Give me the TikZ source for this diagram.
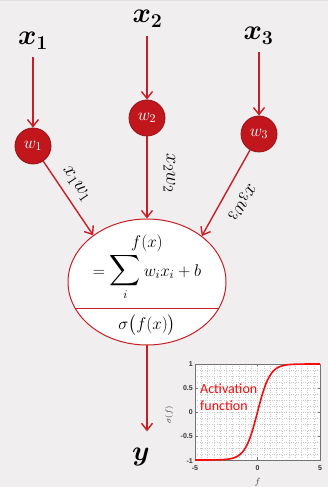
\RequirePackage{fix-cm}
\documentclass[tikz,border=0pt]{standalone}
\usepackage{amsmath}
\usepackage{fontspec}
\newfontfamily\carlito{Carlito}
\newfontfamily\lsans{Liberation Sans}
\usetikzlibrary{arrows.meta,shapes.geometric}
\definecolor{bg}{RGB}{240,238,239}
\definecolor{arr}{RGB}{200,30,36}
\definecolor{wfill}{RGB}{192,22,28}
\definecolor{wdraw}{RGB}{150,16,22}
\definecolor{curvered}{RGB}{245,12,12}
\definecolor{gridgray}{RGB}{200,200,200}
\tikzset{
  arrowline/.style={draw=arr, line width=1.4pt, -{Straight Barb[length=7pt,width=11pt]}},
  biglab/.style={inner sep=0pt, anchor=base, font=\fontsize{28}{30}\selectfont\boldmath},
  wnode/.style={circle, minimum size=36pt, inner sep=0pt, fill=wfill, draw=wdraw, line width=0.8pt, text=white, font=\fontsize{17}{18}\selectfont},
  edgelab/.style={sloped, allow upside down, anchor=south, font=\fontsize{20}{22}\selectfont},
  etext/.style={inner sep=0pt, font=\fontsize{17}{19}\selectfont},
  gridline/.style={draw=gridgray, line width=0.4pt, dotted},
  ticklab/.style={inner sep=0pt, font=\lsans\bfseries\fontsize{7}{8}\selectfont, text=black!80},
  actlab/.style={inner sep=0pt, anchor=base west, text=curvered, font=\carlito\fontsize{14}{16}\selectfont}
}
\begin{document}
\begin{tikzpicture}[x=1pt,y=1pt]
\fill[bg] (0,0) rectangle (328,487);
\useasboundingbox (0,0) rectangle (328,487);
\fill[gray!25] (0,485.5) rectangle (328,487);

% inputs
\node[biglab] (x1) at (33,442) {$x_1$};
\node[biglab] (x2) at (147.5,464) {$x_2$};
\node[biglab] (x3) at (258.5,447) {$x_3$};

% weights
\node[wnode] (w1) at (33,341) {$w_1$};
\node[wnode] (w2) at (147,369) {$w_2$};
\node[wnode] (w3) at (259,353) {$w_3$};

\draw[arrowline, shorten <=8pt] (w1 |- x1.south) -- (w1.north);
\draw[arrowline, shorten <=9pt] (w2 |- x2.south) -- (w2.north);
\draw[arrowline, shorten <=8pt] (w3 |- x3.south) -- (w3.north);

% neuron
\node[ellipse, draw=arr, line width=1pt, fill=white, minimum width=158pt, minimum height=126pt, inner sep=0pt,
  path picture={\draw[arr, line width=1pt] ([yshift=-27pt]path picture bounding box.west) -- ([yshift=-27pt]path picture bounding box.east);}]
  (ell) at (147,205) {};
\node[etext] (fx) at (147,244) {$f(x)$};
\node[etext] (sum) at (147,210) {$= \mathop{\scalebox{1.25}{$\displaystyle\sum$}}\limits_{i} w_i x_i + b$};
\node[etext] (sig) at (147,162) {$\sigma\bigl(f(x)\bigr)$};

\draw[arrowline] (w1) -- (ell.139.5) node[edgelab, pos=0.42, inner sep=8pt] (l1) {$x_1w_1$};
\draw[arrowline] (w2) -- (ell.north) node[edgelab, pos=0.45, inner sep=16pt] (l2) {$x_2w_2$};
\draw[arrowline] (w3) -- (ell.40.6) node[edgelab, pos=0.5, inner sep=12pt] (l3) {$x_3w_3$};

% output
\node[biglab] (y) at (141,27) {$y$};
\draw[arrowline, shorten >=16pt] (ell.south) -- (ell.south |- y.north);

% activation plot
\fill[white] (195,27) rectangle (320,123);
\foreach \i in {-4.5,-4,...,4.6} \draw[gridline] ({257.5+12.5*\i},27) -- ({257.5+12.5*\i},123);
\foreach \j in {-0.875,-0.75,...,0.9} \draw[gridline] (195,{75+48*\j}) -- (320,{75+48*\j});
\draw[black!55, line width=0.6pt] (195,27) rectangle (320,123);
\foreach \v in {-0.5,0,0.5} {
  \draw[black!55, line width=0.5pt] (195,{75+48*\v}) -- (197.5,{75+48*\v});
  \draw[black!55, line width=0.5pt] (320,{75+48*\v}) -- (317.5,{75+48*\v});
}
\draw[black!55, line width=0.5pt] (257.5,27) -- (257.5,29.5);
\draw[black!55, line width=0.5pt] (257.5,123) -- (257.5,120.5);
\draw[curvered, line width=1.6pt] plot[domain=-5:5, samples=120, smooth] ({257.5+12.5*\x},{75+48*tanh(\x)});

\node[ticklab, anchor=east] (yt1) at (193,123) {1};
\node[ticklab, anchor=east] (yt2) at (193,99) {0.5};
\node[ticklab, anchor=east] (yt3) at (193,75) {0};
\node[ticklab, anchor=east] (yt4) at (193,51) {-0.5};
\node[ticklab, anchor=east] (yt5) at (193,26) {-1};
\node[ticklab, anchor=north] (xt1) at (195,21.5) {-5};
\node[ticklab, anchor=north] (xt2) at (257.5,21.5) {0};
\node[ticklab, anchor=north] (xt3) at (320,21.5) {5};
\node[inner sep=0pt, font=\fontsize{9}{9}\selectfont, text=black!80] (xl) at (257.5,5) {$f$};
\node[inner sep=0pt, rotate=90, font=\fontsize{8}{8}\selectfont, text=black!80] (yl) at (169,72) {$\sigma(f)$};

\node[actlab] (act1) at (200,93) {Activation};
\node[actlab] (act2) at (200,76) {function};
\end{tikzpicture}
\end{document}
